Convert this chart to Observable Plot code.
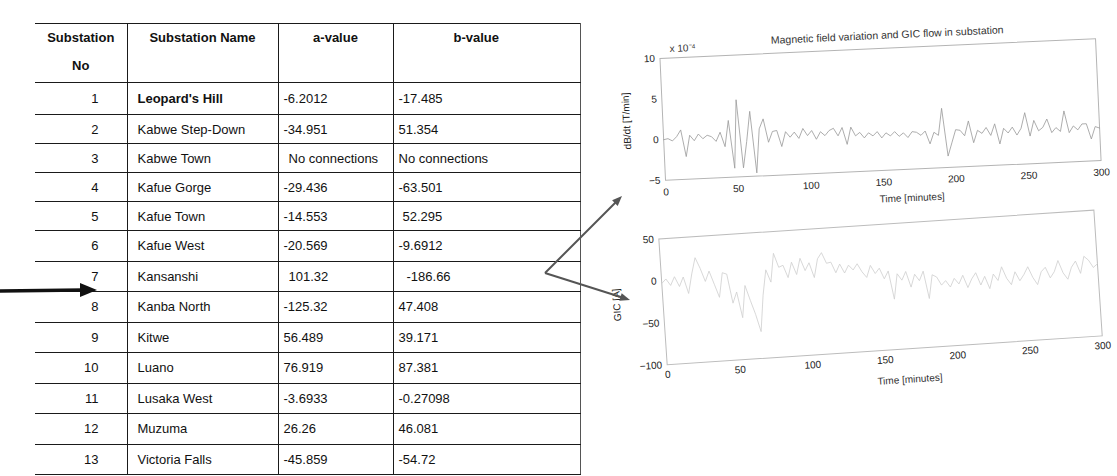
<!DOCTYPE html>
<html><head><meta charset="utf-8">
<script src="https://cdn.jsdelivr.net/npm/d3@7"></script>
<script src="https://cdn.jsdelivr.net/npm/@observablehq/plot@0.6"></script>
<style>
body{margin:0;background:#fff;}
#page{position:relative;width:1117px;height:476px;overflow:hidden;font-family:"Liberation Sans",Arial,sans-serif;background:#fff;}
#tbl{position:absolute;left:35px;top:23px;border-collapse:collapse;table-layout:fixed;font-size:13px;color:#111;}
#tbl td,#tbl th{padding:0;border-top:1.5px solid #1a1a1a;border-bottom:1.5px solid #1a1a1a;white-space:nowrap;overflow:hidden;}
#tbl td+td,#tbl th+th{border-left:1.5px solid #1a1a1a;}
#tbl th{font-weight:bold;vertical-align:top;line-height:28px;height:58px;}
#tbl td{vertical-align:middle;}
#tbl td.no{text-align:right;padding-right:28px;}
#tbl td.nm{padding-left:10px;}
#tbl td.av{padding-left:5px;}
#tbl td.bv{padding-left:5px;}
#tbl td:last-child,#tbl th:last-child{border-right:1px solid #555;}
.plotbox{position:absolute;left:557px;}
.plotbox svg{overflow:visible;}
#ann{position:absolute;left:0;top:0;}
</style>
</head><body>
<div id="page">
  <table id="tbl"></table>
  <div id="topPlot" class="plotbox" style="top:0px"></div>
  <div id="botPlot" class="plotbox" style="top:200px"></div>
  <svg id="ann" width="1117" height="476">
    <line x1="0" y1="291" x2="83" y2="290" stroke="#111" stroke-width="3.5"/>
    <polygon points="80,283 97,290 80,297" fill="#111"/>
    <line x1="545" y1="273" x2="617" y2="201" stroke="#555" stroke-width="2"/>
    <polygon points="622,196 617.7,205.9 612.1,200.3" fill="#555"/>
    <line x1="545" y1="273" x2="624" y2="298" stroke="#555" stroke-width="2"/>
    <polygon points="630,300 619.3,300.8 621.7,293.2" fill="#555"/>
  </svg>
</div>
<script>
// ---- table data ----
const substationNo = [1,2,3,4,5,6,7,8,9,10,11,12,13];
const substationNames = ["Leopard's Hill","Kabwe Step-Down","Kabwe Town","Kafue Gorge","Kafue Town","Kafue  West","Kansanshi","Kanba North","Kitwe","Luano","Lusaka West","Muzuma","Victoria Falls"];
const aValues = ["-6.2012","-34.951","No connections","-29.436","-14.553","-20.569","101.32","-125.32","56.489","76.919","-3.6933","26.26","-45.859"];
const bValues = ["-17.485","51.354","No connections","-63.501","52.295","-9.6912","-186.66","47.408","39.171","87.381","-0.27098","46.081","-54.72"];
const headers = ["Substation<br>No","Substation Name","a-value","b-value"];

// ---- chart data (time in minutes, dB/dt in 1e-4 T/min, GIC in A) ----
const time = [0,3,6,9,12,15,18,21,24,27,
  30,33,36,39,42,45,48,51,54,57,
  60,63,66,69,72,75,78,81,84,87,
  90,93,96,99,102,105,108,111,114,117,
  120,123,126,129,132,135,138,141,144,147,
  150,153,156,159,162,165,168,171,174,177,
  180,183,186,189,192,195,198,201,204,207,
  210,213,216,219,222,225,228,231,234,237,
  240,243,246,249,252,255,258,261,264,267,
  270,273,276,279,282,285,288,291,294,297,
  300];
const dbdt = [0,0.1,-0.2,0.3,1.1,-2.2,0.4,-0.3,0.5,-0.1,
  0.3,0.1,-0.5,0.6,-1.2,2.0,-3.9,4.5,-3.9,-0.7,
  3.0,-4.6,0.8,2.0,-0.9,0.4,0.5,-1.5,0.3,-0.4,
  0.2,-0.6,0.6,-0.3,0.3,-0.8,0.1,-0.4,0.2,0.45,
  -0.5,0.5,-1.6,0.5,-0.6,-0.2,-0.9,-0.3,-0.7,-0.2,
  -1.0,-0.4,-0.8,-0.3,-0.9,-0.5,-1.1,-0.4,-0.5,-0.9,
  -0.4,-2.0,-0.6,-1.0,2.3,-3.6,-2.0,-0.4,-0.5,-1.2,
  0.6,-2.1,-0.6,-1.0,-0.3,-1.3,0.1,-2.4,-0.5,-1.1,
  -0.4,-1.4,-0.6,1.3,-1.6,0.3,-1.0,-0.6,0.4,-1.3,
  -0.7,-1.2,1.3,-1.4,-0.6,-1.1,-0.4,-0.4,-2.3,-0.8,
  -1.0];
const gic = [-3,2,-6,4,-8,3,-17,6,25,12,
  -4,8,-8,-24,5,3,-32,-19,-50,-12,
  -30,-47,-68,-25,5,-10,24,7,9,-6,
  12,-3,16,1,10,-8,14,21,8,9,
  -4,6,-5,4,-2,5,-5,-12,2,-8,
  -2,-15,-6,-40,-10,-18,-8,-27,-12,-20,
  -9,-42,-14,-17,-27,-22,-30,-20,-27,-17,
  -32,-22,-15,-30,-20,-35,-18,-26,-10,-24,
  -32,-17,-28,-21,-12,-25,-34,-19,-14,-27,
  -20,-7,-22,-30,-16,-9,-24,-4,-9,-18,
  -14];
const xTicks = [0,50,100,150,200,250,300];
const dbdtTicks = [-5,0,5,10];
const gicTicks = [-100,-50,0,50];
const chartTitle = "Magnetic field variation and GIC flow in substation";
const xLabel = "Time [minutes]";
const dbdtLabel = "dB/dt [T/min]";
const gicLabel = "GIC [A]";
const expLabel = "x 10⁻⁴";

// ---- build table ----
const tbl = document.getElementById("tbl");
const colW = [92,151,115,187];
let html = "<colgroup>" + colW.map(w=>`<col style="width:${w}px">`).join("") + "</colgroup>";
html += "<tr>" + headers.map((h,i)=>{
  const st = i < 3 ? "text-align:center" : "text-align:left;padding-left:60px";
  return `<th style="${st}">${h}</th>`;
}).join("") + "</tr>";
const rowH = [32,29,29,29,29,30.5,30.5,30.5,30.5,30.5,30.5,30.5,30.5];
substationNo.forEach((n,i)=>{
  const bold = i===0 ? "font-weight:bold;" : "";
  const ap = aValues[i]==="No connections" || aValues[i]==="101.32" ? "padding-left:10px" : "";
  const bp = bValues[i]==="-186.66" ? "padding-left:13px" : (bValues[i]==="52.295" ? "padding-left:9px" : "");
  html += `<tr style="height:${rowH[i]}px"><td class="no">${n}</td><td class="nm" style="${bold}">${substationNames[i]}</td><td class="av" style="${ap}">${aValues[i]}</td><td class="bv" style="${bp}">${bValues[i]}</td></tr>`;
});
tbl.innerHTML = html;

// ---- charts ----
const font = {fontFamily:"'Liberation Sans', Arial, sans-serif", fontSize:"10px", color:"#222", background:"transparent", overflow:"visible"};
const topData = time.map((t,i)=>({t, v: dbdt[i]}));
const botData = time.map((t,i)=>({t, v: gic[i]}));

const topChart = Plot.plot({
  width: 560, height: 215,
  marginLeft: 105, marginRight: 19, marginTop: 48, marginBottom: 45,
  style: font,
  x: {domain:[0,300], ticks: xTicks, tickSize: 0, tickPadding: 8, label: null},
  y: {domain:[-5,10], ticks: dbdtTicks, tickSize: 0, tickPadding: 5, label: dbdtLabel, labelAnchor: "center", labelOffset: 40, labelArrow: "none"},
  marks: [
    Plot.frame({stroke:"#b4b4b4"}),
    Plot.lineY(topData, {x:"t", y:"v", stroke:"#9a9a9a", strokeWidth:0.8}),
    Plot.text([chartTitle], {frameAnchor:"top", dx: 10, dy: -17, fontSize: 10.5, fill:"#333"}),
    Plot.text([expLabel], {frameAnchor:"top-left", dx: 10, dy: -13, textAnchor:"start", fill:"#333"}),
    Plot.text([xLabel], {x:[169], frameAnchor:"bottom", dy: 32, fill:"#333"})
  ]
});
topChart.style.transformOrigin = "323px 109px";
topChart.style.transform = "rotate(-2.6deg)";
document.getElementById("topPlot").appendChild(topChart);

const botChart = Plot.plot({
  width: 560, height: 200,
  marginLeft: 105, marginRight: 19, marginTop: 24, marginBottom: 50,
  style: font,
  x: {domain:[0,300], ticks: xTicks, tickSize: 0, tickPadding: 6, label: null},
  y: {domain:[-100,50], ticks: gicTicks, tickSize: 0, tickPadding: 5, label: gicLabel, labelAnchor: "center", labelOffset: 50, labelArrow: "none"},
  marks: [
    Plot.frame({stroke:"#bcbcbc"}),
    Plot.lineY(botData, {x:"t", y:"v", stroke:"#d0d0d0", strokeWidth:0.8}),
    Plot.text([xLabel], {x:[166], frameAnchor:"bottom", dy: 34, fill:"#333"})
  ]
});
botChart.style.transformOrigin = "323px 87px";
botChart.style.transform = "rotate(-3.8deg)";
document.getElementById("botPlot").appendChild(botChart);
</script>
</body></html>
